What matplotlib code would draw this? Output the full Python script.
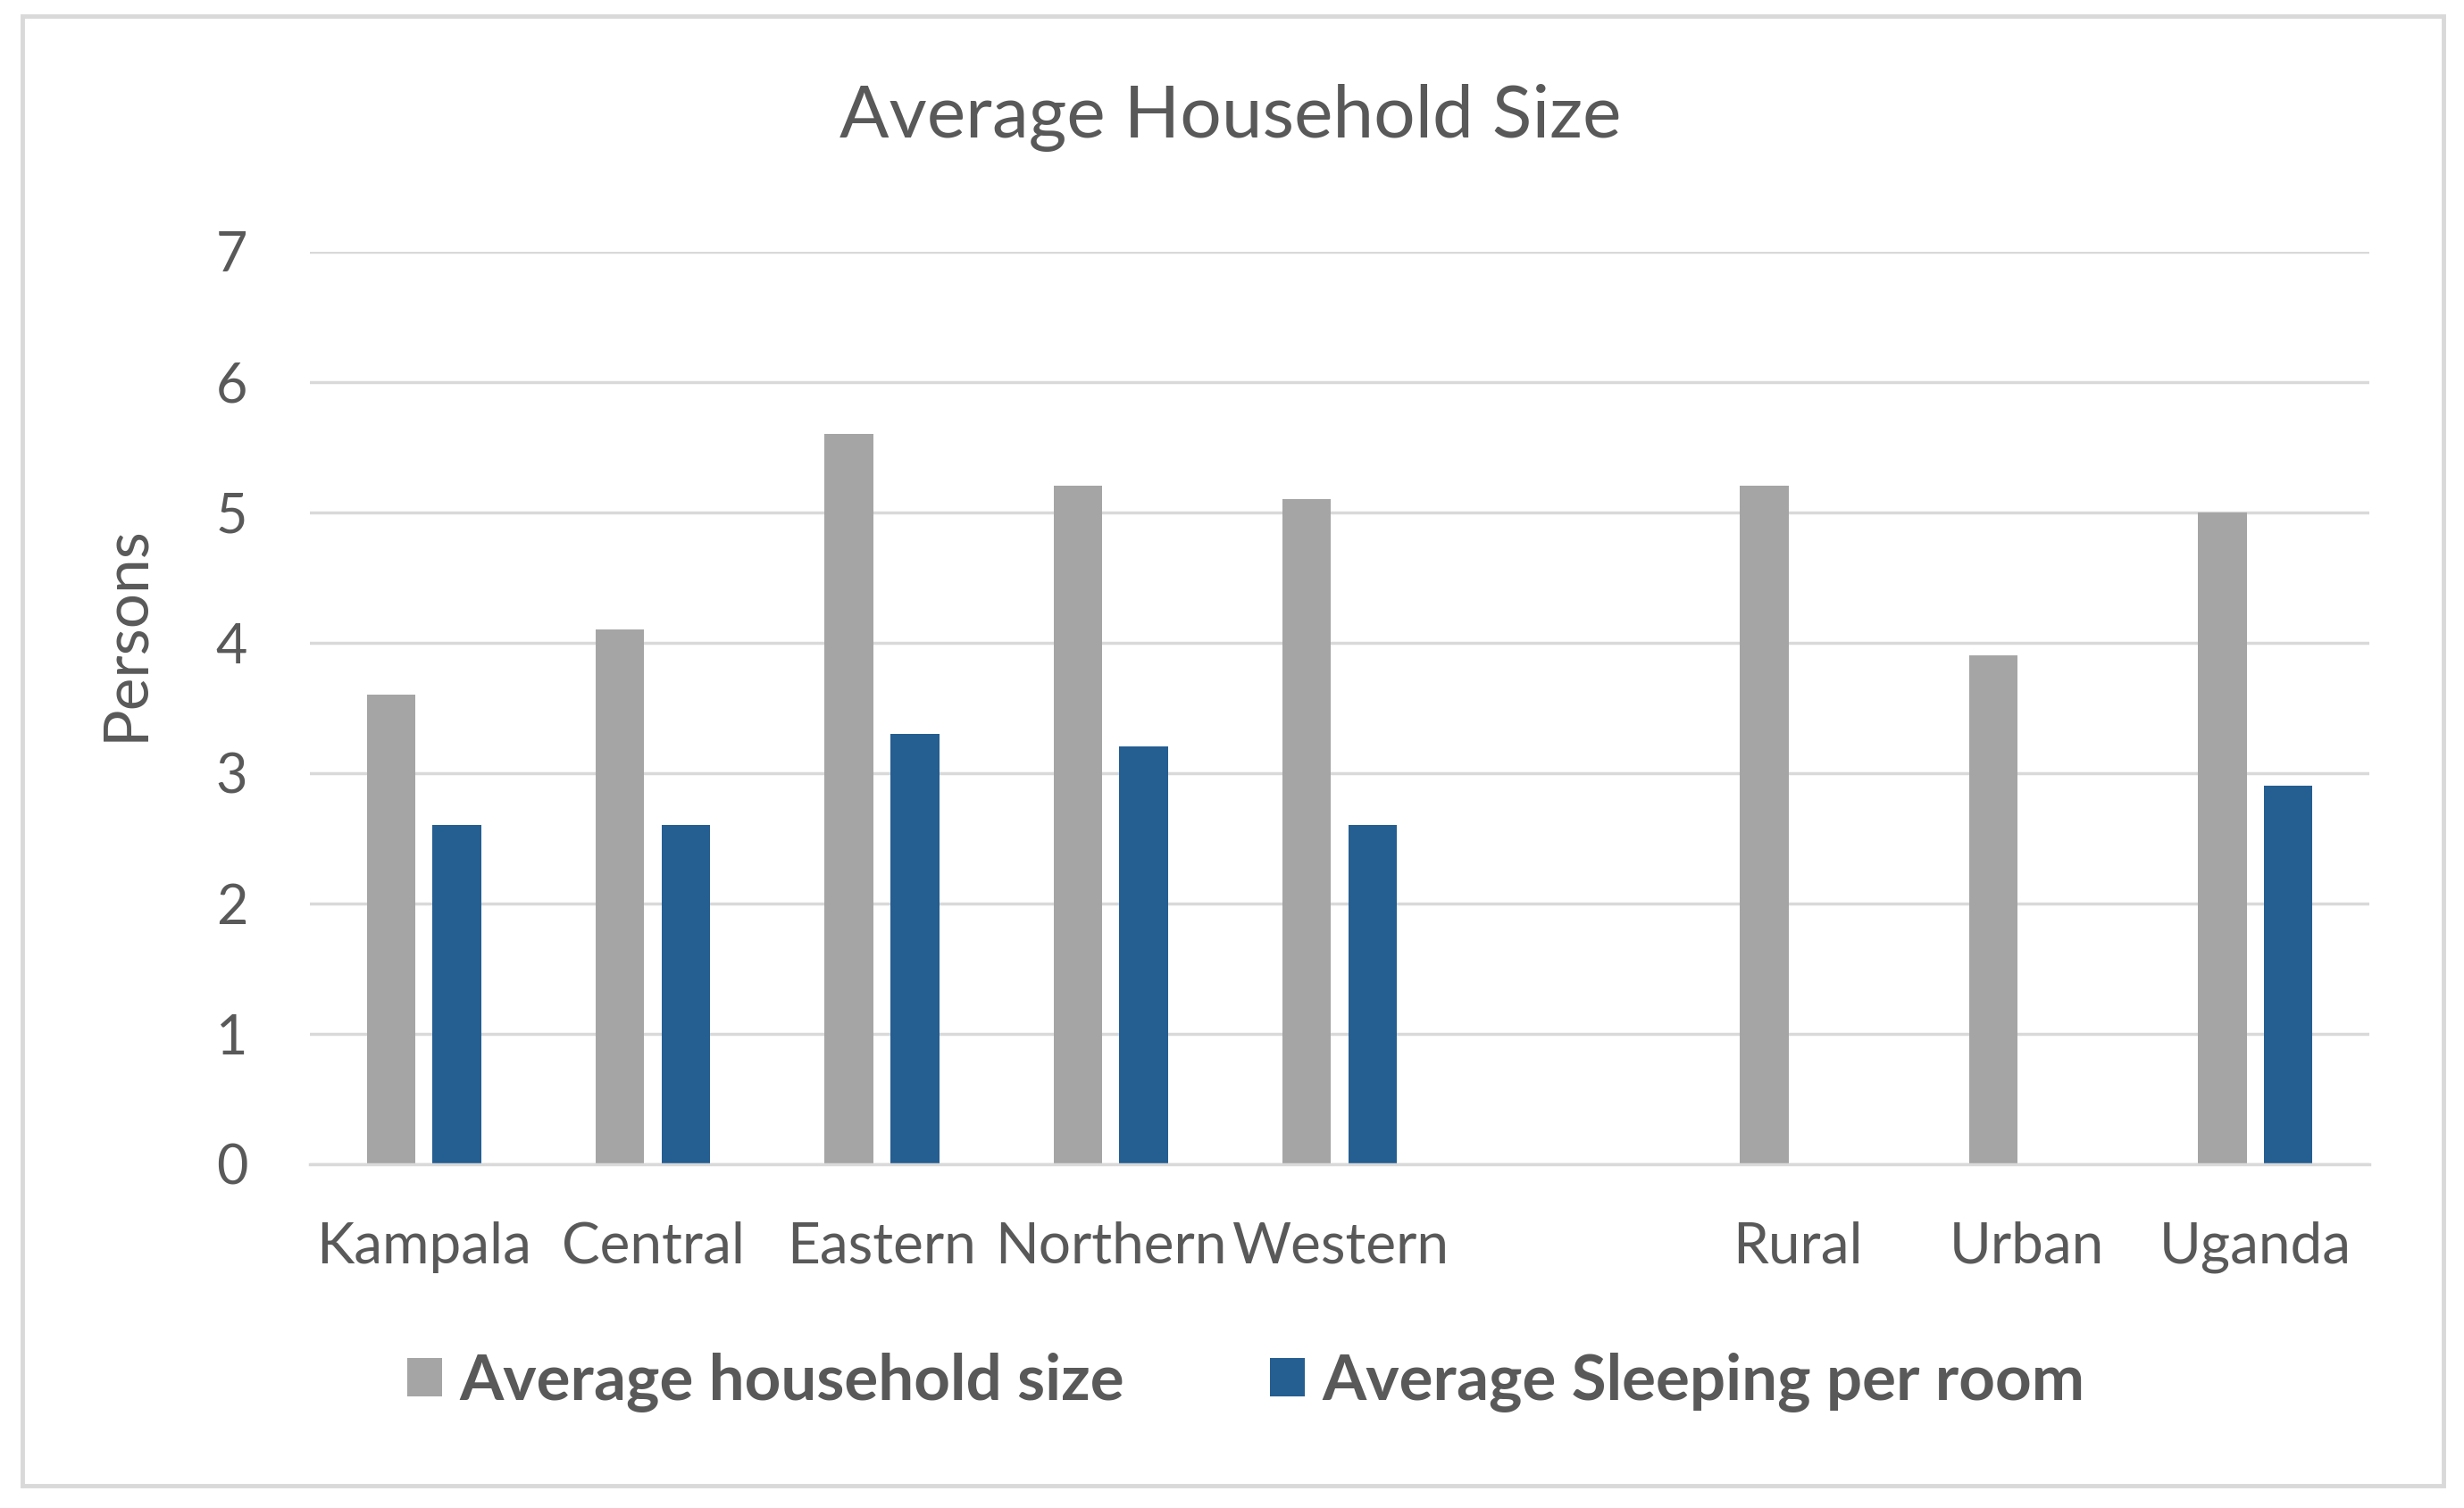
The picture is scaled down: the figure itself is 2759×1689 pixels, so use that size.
import matplotlib
matplotlib.use("Agg")
import matplotlib.pyplot as plt
from matplotlib.patches import Rectangle
import numpy as np

categories = ["Kampala", "Central", "Eastern", "Northern", "Western", "", "Rural", "Urban", "Uganda"]
household_size = [3.6, 4.1, 5.6, 5.2, 5.1, np.nan, 5.2, 3.9, 5.0]
sleeping_per_room = [2.6, 2.6, 3.3, 3.2, 2.6, np.nan, np.nan, np.nan, 2.9]
series_names = ["Average household size", "Average Sleeping per room"]
yticks = [0, 1, 2, 3, 4, 5, 6, 7]

TXT = "#595959"
GRAY = "#A5A5A5"
BLUE = "#255E91"
GRID = "#D9D9D9"
FONT = "Lato"

plt.rcParams["font.family"] = [FONT, "DejaVu Sans"]

fig = plt.figure(figsize=(27.59, 16.89), dpi=100)
fig.patches.append(Rectangle((14/1568, 1-946/960), (1555-14)/1568, (946-10)/960,
                             transform=fig.transFigure, fill=False, edgecolor=GRID, linewidth=3.5))

ax = fig.add_axes([197/1568, 1-741/960, (1508-197)/1568, (741-160)/960])
x = np.arange(len(categories))
w = 0.213
off = 0.144
ax.bar(x - off, household_size, width=w, color=GRAY, label=series_names[0], zorder=3)
ax.bar(x + off, sleeping_per_room, width=w, color=BLUE, label=series_names[1], zorder=3)

ax.set_xlim(-0.5, len(categories) - 0.5)
ax.set_ylim(0, 7)
ax.set_yticks(yticks)
ax.set_xticks(x)
ax.set_xticklabels(categories)
ax.yaxis.grid(True, color=GRID, linewidth=2.5, zorder=0)
ax.set_axisbelow(True)
for s in ["top", "right", "left"]:
    ax.spines[s].set_visible(False)
ax.spines["bottom"].set_color(GRID)
ax.spines["bottom"].set_linewidth(2.5)
ax.spines["bottom"].set_zorder(4)
ax.tick_params(axis="both", length=0, colors=TXT)
ax.tick_params(axis="y", labelsize=44, pad=50)
ax.tick_params(axis="x", labelsize=46, pad=46)

fig.text(80/1568, 1-403/960, "Persons", rotation=90, ha="center", va="center",
         fontsize=50, color=TXT)

fig.text(783/1568, 1-75/960, "Average Household Size", ha="center", va="center",
         fontsize=59, color=TXT)

leg = fig.legend(loc="center", bbox_to_anchor=(793/1568, 1-880/960), ncol=2, frameon=False,
                 prop={"size": 51, "weight": "bold", "family": [FONT, "DejaVu Sans"]},
                 handlelength=0.55, handleheight=0.55, handletextpad=0.27, columnspacing=2.3)
for t in leg.get_texts():
    t.set_color(TXT)

fig.savefig("out.png", dpi=100, facecolor="white")
